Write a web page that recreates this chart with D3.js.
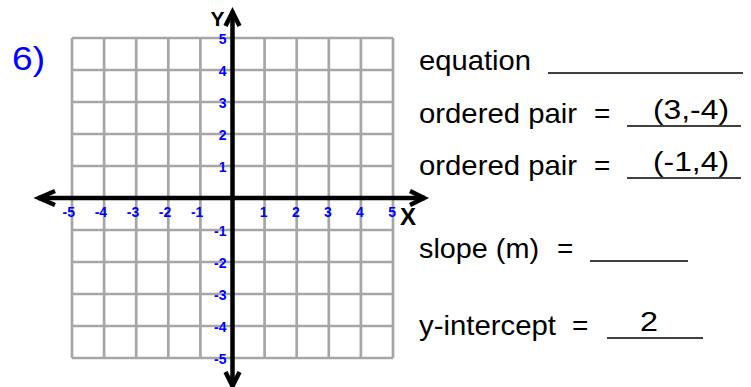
<!DOCTYPE html>
<html>
<head>
<meta charset="utf-8">
<script src="https://cdn.jsdelivr.net/npm/d3@7"></script>
<style>
  body { margin: 0; background: #fff; }
  svg text { font-family: "Liberation Sans", Arial, sans-serif; }
</style>
</head>
<body>
<div id="chart"></div>
<script>
/* worksheet problem 6 - blank coordinate grid with answer blanks */

// grid values, -5..5 on both axes
let gridVals = [-5, -4, -3, -2, -1, 0, 1, 2, 3, 4, 5];
let tickVals = [-5, -4, -3, -2, -1, 1, 2, 3, 4, 5];
let tickLabels = ["-5", "-4", "-3", "-2", "-1", "1", "2", "3", "4", "5"];

let problemLabel = "6)";
let prompts = ["equation", "ordered pair", "ordered pair", "slope (m)", "y-intercept"];
let hasEquals = [false, true, true, true, true];
let answers = ["", "(3,-4)", "(-1,4)", "", "2"];

const blue = "#0000ff";

let width = 751, height = 387;

let svg = d3.select("#chart").append("svg")
    .attr("width", width)
    .attr("height", height);

// set the ranges
let x = d3.scaleLinear().domain([-5, 5]).range([72, 393]);
let y = d3.scaleLinear().domain([-5, 5]).range([358, 38]);

/* grid */

let grid = svg.append("g")
    .attr("stroke", "#a6a6a6")
    .attr("stroke-width", 2.7);

grid.selectAll(".vline")
    .data(gridVals)
  .enter().append("line")
    .attr("x1", d => x(d)).attr("x2", d => x(d))
    .attr("y1", y(5)).attr("y2", y(-5));

grid.selectAll(".hline")
    .data(gridVals)
  .enter().append("line")
    .attr("y1", d => y(d)).attr("y2", d => y(d))
    .attr("x1", x(-5)).attr("x2", x(5));

/* axes with open arrow heads */

let ax = svg.append("g")
    .attr("stroke", "#000")
    .attr("stroke-width", 4.5)
    .attr("fill", "none")
    .attr("stroke-linecap", "butt");

let x0 = x(0), y0 = y(0);
let xLeft = x(-5) - 34, xRight = x(5) + 32;
let yTop = y(5) - 27, yBottom = y(-5) + 29;

ax.append("line").attr("x1", xLeft).attr("x2", xRight).attr("y1", y0).attr("y2", y0);
ax.append("line").attr("x1", x0).attr("x2", x0).attr("y1", yTop).attr("y2", yBottom);

let line = d3.line();
ax.append("path").attr("d", line([[xLeft + 17, y0 - 7], [xLeft + 1, y0], [xLeft + 17, y0 + 7]]));
ax.append("path").attr("d", line([[xRight - 15, y0 - 7], [xRight - 1, y0], [xRight - 15, y0 + 7]]));
ax.append("path").attr("d", line([[x0 - 7, yTop + 15], [x0, yTop + 1], [x0 + 7, yTop + 15]]));
ax.append("path").attr("d", line([[x0 - 7, yBottom - 15], [x0, yBottom - 1], [x0 + 7, yBottom - 15]]));

// axis names
svg.append("text")
    .attr("x", x0 - 8).attr("y", 26.3)
    .attr("text-anchor", "end")
    .attr("font-size", 21).attr("font-weight", "bold")
    .text("Y");

svg.append("text")
    .attr("x", xRight - 25).attr("y", 225)
    .attr("font-size", 24).attr("font-weight", "bold")
    .text("X");

/* tick labels */

svg.selectAll(".xtick")
    .data(tickVals)
  .enter().append("text")
    .attr("x", d => x(d) + 3)
    .attr("y", y0 + 19)
    .attr("text-anchor", "end")
    .attr("font-size", 14).attr("font-weight", "bold")
    .attr("fill", blue)
    .text((d, i) => tickLabels[i]);

svg.selectAll(".ytick")
    .data(tickVals)
  .enter().append("text")
    .attr("x", x0 - 6)
    .attr("y", d => y(d))
    .attr("dy", "0.4em")
    .attr("text-anchor", "end")
    .attr("font-size", 14).attr("font-weight", "bold")
    .attr("fill", blue)
    .text((d, i) => tickLabels[i]);

/* problem number */

svg.append("text")
    .attr("x", 12).attr("y", 70)
    .attr("font-size", 34)
    .attr("textLength", 33)
    .attr("lengthAdjust", "spacingAndGlyphs")
    .attr("fill", blue)
    .text(problemLabel);

/* answer blanks on the right */

// row layout: baseline, label width, "=" x, blank start/end, answer x/width
let rows = [
  {base: 70, w: 112, eq: null, b0: 548, b1: 743},
  {base: 123, w: 158, eq: 594, b0: 627, b1: 741, ax: 653, aw: 76},
  {base: 175, w: 158, eq: 594, b0: 627, b1: 741, ax: 653, aw: 76},
  {base: 258, w: 120, eq: 557, b0: 590, b1: 688},
  {base: 335, w: 137, eq: 572, b0: 607, b1: 703, ax: 640, aw: 18}
];

let rg = svg.append("g").attr("font-size", 28).attr("fill", "#000");

rows.forEach((r, i) => {
  rg.append("text")
      .attr("x", 419).attr("y", r.base)
      .attr("textLength", r.w)
      .attr("lengthAdjust", "spacingAndGlyphs")
      .text(prompts[i]);
  if (hasEquals[i]) {
    rg.append("text")
        .attr("x", r.eq).attr("y", r.base)
        .text("=");
  }
  rg.append("line")
      .attr("x1", r.b0).attr("x2", r.b1)
      .attr("y1", r.base + 3).attr("y2", r.base + 3)
      .attr("stroke", "#000").attr("stroke-width", 1.5);
  if (answers[i]) {
    rg.append("text")
        .attr("x", r.ax).attr("y", r.base - 4)
        .attr("textLength", r.aw)
        .attr("lengthAdjust", "spacingAndGlyphs")
        .text(answers[i]);
  }
});
</script>
</body>
</html>
